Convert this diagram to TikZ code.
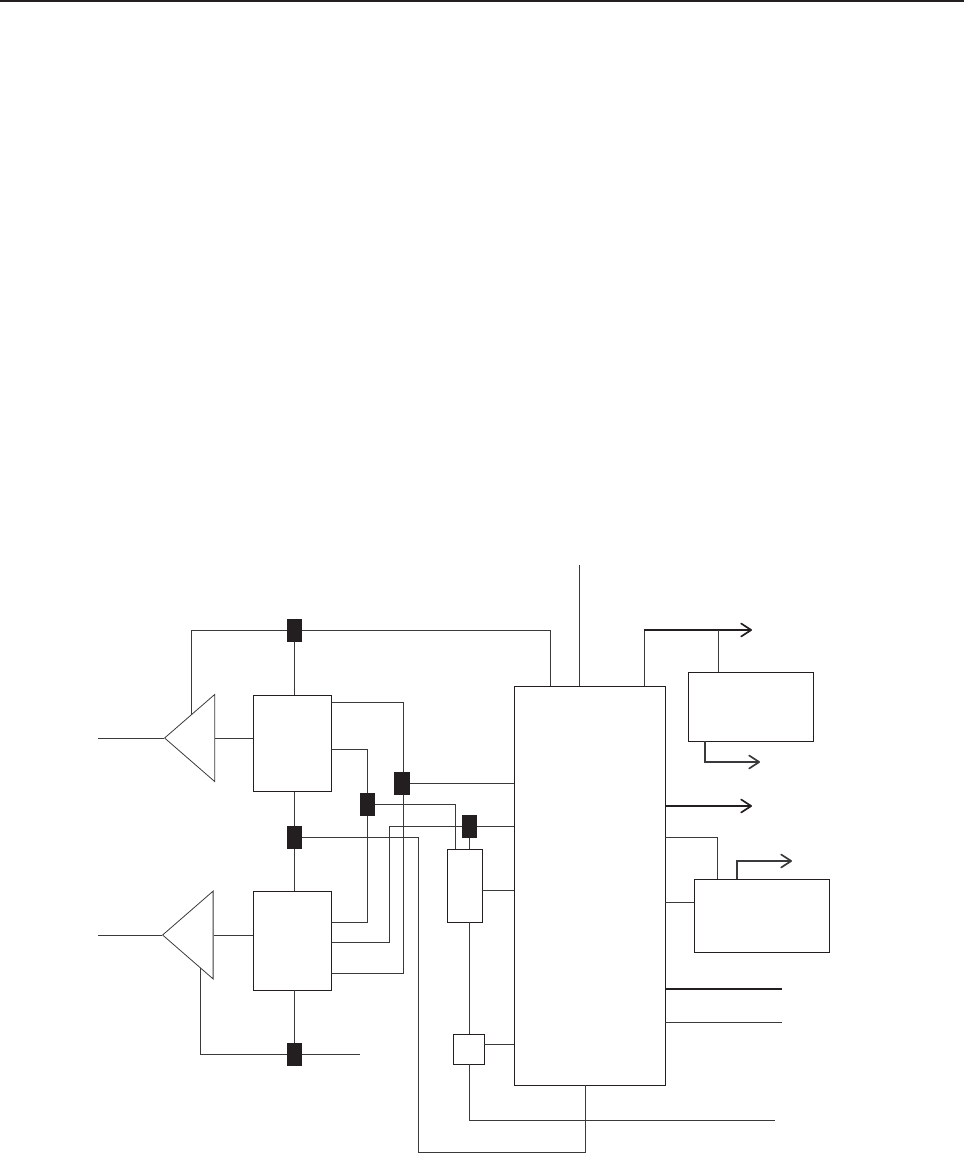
\documentclass[tikz,border=0pt]{standalone}
\usepackage{xcolor}
\usetikzlibrary{arrows.meta,shapes.geometric}
\definecolor{inkline}{HTML}{3A3A3C}
\definecolor{inkblock}{HTML}{231F20}
\begin{document}
\begin{tikzpicture}[
  x=1pt,y=-1pt,
  box/.style={draw=inkblock,line width=0.9pt,fill=white,inner sep=0pt,anchor=north west},
  tap/.style={draw=none,fill=inkblock,inner sep=0pt,minimum width=15pt,minimum height=23pt},
  amp/.style={isosceles triangle,isosceles triangle apex angle=82,shape border rotate=180,draw=inkline,line width=0.8pt,inner sep=0pt,anchor=apex},
  wire/.style={draw=inkline,line width=0.8pt},
  bus/.style={draw=inkblock,line width=1.6pt},
  arr/.style={-{Straight Barb[length=10pt,width=13pt,line width=1.7pt,round=false]}}
]
\useasboundingbox (0,0) rectangle (964,1154);
\draw[inkblock,line width=2pt] (0,1) -- (964,1);
% boxes
\node[box,minimum width=151pt,minimum height=399pt] (proc) at (514,686) {};
\node[box,minimum width=78pt,minimum height=96pt] (mixa) at (252.5,695) {};
\node[box,minimum width=78pt,minimum height=99pt] (mixb) at (252.5,890.5) {};
\node[box,minimum width=34.5pt,minimum height=73pt] (filt) at (447,849) {};
\node[box,minimum width=30.5pt,minimum height=29.5pt] (osc) at (453,1034) {};
\node[box,minimum width=124.5pt,minimum height=69pt] (outa) at (688,672) {};
\node[box,minimum width=135pt,minimum height=73pt] (outb) at (694,879) {};
% amplifiers
\node[amp,minimum height=50pt,minimum width=87pt] (ampa) at (164,738) {};
\node[amp,minimum height=50.5pt,minimum width=86.5pt] (ampb) at (162,935) {};
% black blocks
\node[tap] (tapt) at (294.5,630.5) {};
\node[tap] (tapm) at (294.5,837.5) {};
\node[tap] (tapb) at (294.5,1054.5) {};
\node[tap,minimum width=16pt] (tapr) at (402,783.5) {};
\node[tap] (tapl) at (367.5,804.5) {};
\node[tap] (tapf) at (469.5,826.5) {};
% free ends
\coordinate (ina) at (98,738);
\coordinate (inb) at (98,935);
\coordinate (topin) at (579,565);
\coordinate (ampat) at (191,715);
\coordinate (ampbb) at (200,968);
\coordinate (lo) at (360,1054.5);
\coordinate (ctla) at (782,989);
\coordinate (ctlb) at (782,1022);
\coordinate (ctlc) at (775,1120);
% left part
\draw[wire] (ina) -- (ampa.apex);
\draw[wire] (inb) -- (ampb.apex);
\draw[wire] (ampa.lower side) -- (mixa.west |- ampa.lower side);
\draw[wire] (ampb.lower side) -- (mixb.west |- ampb.lower side);
\draw[wire] (ampat) -- (ampat |- tapt.west) -- (tapt.west);
\draw[wire] (tapt.east) -- (550,630.5) -- (550,686);
\draw[wire] (tapt.south) -- (tapt.south |- mixa.north);
\draw[wire] (tapm.north) -- (tapm.north |- mixa.south);
\draw[wire] (tapm.south) -- (tapm.south |- mixb.north);
\draw[wire] (tapb.north) -- (tapb.north |- mixb.south);
\draw[wire] (ampbb) -- (ampbb |- tapb.west) -- (tapb.west);
\draw[wire] (tapb.east) -- (lo);
% middle wires
\draw[wire] (330.5,702) -- (403,702) -- (403,772);
\draw[wire] (403,795) -- (403,973) -- (330.5,973);
\draw[wire] (330.5,749) -- (367.5,749) -- (tapl.north);
\draw[wire] (tapl.south) -- (367.5,922) -- (330.5,922);
\draw[wire] (330.5,942) -- (389,942) -- (389,826.5) -- (tapf.west);
\draw[wire] (tapf.east) -- (tapf.east -| proc.west);
\draw[wire] (tapr.east) -- (tapr.east -| proc.west);
\draw[wire] (tapl.east) -- (455,804.5) -- (455,849);
\draw[wire] (tapf.south) -- (tapf.south |- filt.north);
\draw[wire] (481.5,890) -- (514,890);
\draw[wire] (469.5,922) -- (469.5,1034);
\draw[wire] (483.5,1044) -- (514,1044);
\draw[wire] (469.5,1063.5) -- (469.5,1120) -- (ctlc);
\draw[wire] (tapm.east) -- (418,837.5) -- (418,1152.5) -- (585.5,1152.5) -- (585.5,1085);
\draw[wire] (topin) -- (topin |- proc.north);
% right part
\draw[wire] (644,686) -- (644,630);
\draw[bus,arr] (643.5,630) -- (752,630);
\draw[wire] (718,630) -- (718,672);
\draw[wire,line width=1.1pt,arr] (705,741) -- (705,762) -- (760,762);
\draw[bus,arr] (665,806) -- (752,806);
\draw[wire] (665,837) -- (717,837) -- (717,879);
\draw[wire,line width=1.1pt,arr] (737,879) -- (737,861) -- (792,861);
\draw[wire] (665,902.5) -- (694,902.5);
\draw[bus] (665,989) -- (ctla);
\draw[wire] (665,1022) -- (ctlb);
\end{tikzpicture}
\end{document}
